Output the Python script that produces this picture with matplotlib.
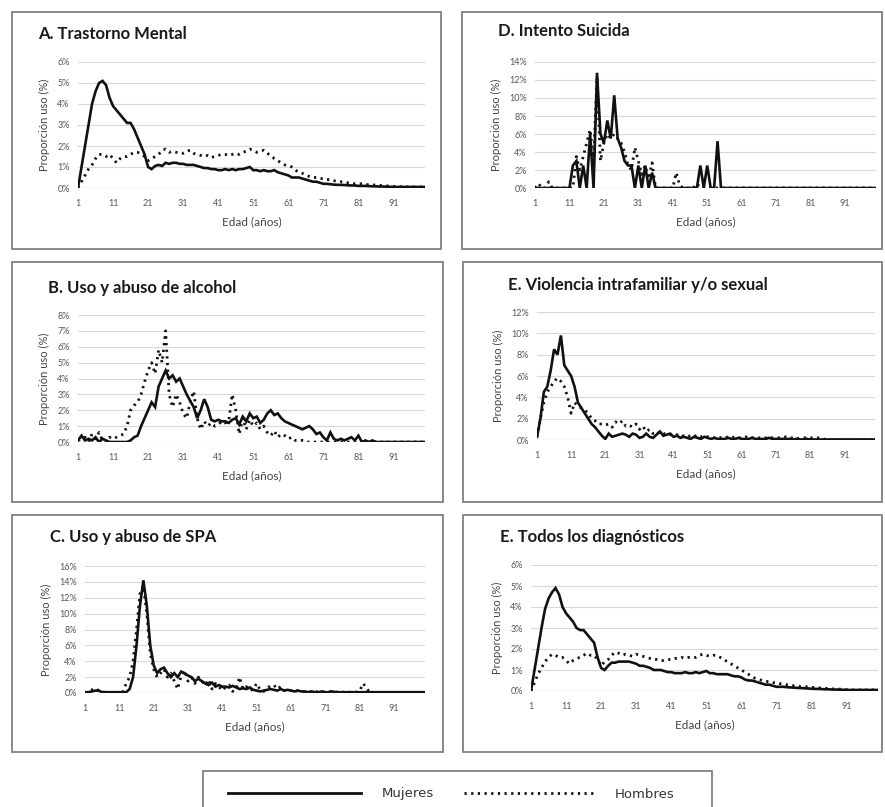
import matplotlib.pyplot as plt
from matplotlib.patches import Rectangle
from matplotlib.lines import Line2D
import numpy as np

plt.rcParams['font.family'] = ['Lato', 'DejaVu Sans']

edad = list(range(1, 101))

# A. Trastorno Mental
a_muj = [0.0, 1.0, 2.0, 3.0, 4.0, 4.6, 5.0, 5.1, 4.9, 4.3,
         3.9, 3.7, 3.5, 3.3, 3.1, 3.1, 2.8, 2.4, 2.0, 1.6,
         1.0, 0.9, 1.05, 1.1, 1.05, 1.2, 1.15, 1.2, 1.2, 1.15,
         1.15, 1.1, 1.1, 1.1, 1.05, 1.0, 0.95, 0.95, 0.9, 0.9,
         0.85, 0.85, 0.9, 0.85, 0.9, 0.85, 0.9, 0.9, 0.95, 1.0,
         0.85, 0.85, 0.8, 0.85, 0.8, 0.8, 0.85, 0.75, 0.7, 0.65,
         0.6, 0.5, 0.5, 0.5, 0.45, 0.4, 0.35, 0.3, 0.3, 0.25,
         0.2, 0.2, 0.18, 0.16, 0.15, 0.15, 0.14, 0.13, 0.12, 0.12,
         0.1, 0.1, 0.1, 0.09, 0.08, 0.08, 0.07, 0.07, 0.06, 0.06,
         0.05, 0.05, 0.05, 0.05, 0.05, 0.05, 0.05, 0.05, 0.05, 0.05]
a_hom = [0.0, 0.3, 0.6, 0.9, 1.1, 1.4, 1.6, 1.6, 1.5, 1.6,
         1.4, 1.2, 1.4, 1.5, 1.5, 1.6, 1.7, 1.7, 1.6, 1.5,
         1.3, 1.4, 1.5, 1.6, 1.8, 1.85, 1.7, 1.75, 1.7, 1.7,
         1.65, 1.75, 1.8, 1.65, 1.6, 1.55, 1.5, 1.55, 1.45, 1.5,
         1.55, 1.6, 1.6, 1.55, 1.6, 1.65, 1.6, 1.7, 1.75, 1.85,
         1.8, 1.7, 1.75, 1.8, 1.65, 1.55, 1.4, 1.3, 1.2, 1.1,
         1.05, 1.0, 0.85, 0.75, 0.7, 0.6, 0.55, 0.5, 0.5, 0.45,
         0.45, 0.4, 0.4, 0.35, 0.3, 0.3, 0.25, 0.25, 0.25, 0.2,
         0.2, 0.2, 0.18, 0.15, 0.15, 0.14, 0.12, 0.12, 0.1, 0.1,
         0.08, 0.07, 0.06, 0.06, 0.05, 0.05, 0.05, 0.05, 0.05, 0.05]

# D. Intento Suicida
d_muj = [0, 0, 0, 0, 0, 0, 0, 0, 0, 0,
         0, 2.5, 3.0, 0, 2.5, 0, 6.0, 0, 12.8, 6.0,
         5.0, 7.5, 5.5, 10.3, 5.5, 4.5, 3.0, 2.5, 2.5, 0,
         2.5, 0, 2.5, 0, 1.7, 0, 0, 0, 0, 0,
         0, 0, 0, 0, 0, 0, 0, 0, 2.5, 0,
         2.5, 0, 0, 5.2, 0, 0, 0, 0, 0, 0,
         0, 0, 0, 0, 0, 0, 0, 0, 0, 0,
         0, 0, 0, 0, 0, 0, 0, 0, 0, 0,
         0, 0, 0, 0, 0, 0, 0, 0, 0, 0,
         0, 0, 0, 0, 0, 0, 0, 0, 0, 0]
d_hom = [0, 0.5, 0, 0, 0.7, 0, 0, 0, 0, 0,
         0, 0, 3.5, 2.0, 3.5, 5.0, 6.5, 3.0, 12.3, 3.0,
         5.0, 6.0, 5.5, 6.0, 5.5, 5.0, 4.0, 2.5, 2.0, 4.5,
         3.0, 1.5, 2.5, 1.0, 2.8, 0, 0, 0, 0, 0,
         0, 1.7, 0.3, 0, 0, 0, 0, 0.5, 0, 0,
         0, 0, 0, 0, 0, 0, 0, 0, 0, 0,
         0, 0, 0, 0, 0, 0, 0, 0, 0, 0,
         0, 0, 0, 0, 0, 0, 0, 0, 0, 0,
         0, 0, 0, 0, 0, 0, 0, 0, 0, 0,
         0, 0, 0, 0, 0, 0, 0, 0, 0, 0]

# B. Uso y abuso de alcohol
b_muj = [0.1, 0.4, 0.1, 0.2, 0.1, 0.3, 0.0, 0.2, 0.1, 0.0,
         0.0, 0.0, 0.0, 0.0, 0.0, 0.1, 0.3, 0.4, 1.0, 1.5,
         2.0, 2.5, 2.2, 3.5, 4.0, 4.5, 4.0, 4.2, 3.8, 4.0,
         3.5, 3.0, 2.6, 2.2, 1.5, 2.0, 2.7, 2.2, 1.4, 1.3,
         1.4, 1.3, 1.3, 1.2, 1.4, 1.5, 1.1, 1.6, 1.3, 1.8,
         1.5, 1.6, 1.2, 1.4, 1.8, 2.0, 1.7, 1.8, 1.5, 1.3,
         1.2, 1.1, 1.0, 0.9, 0.8, 0.9, 1.0, 0.8, 0.5, 0.6,
         0.3, 0.1, 0.6, 0.2, 0.1, 0.2, 0.1, 0.2, 0.3, 0.1,
         0.4, 0.0, 0.1, 0.0, 0.1, 0.0, 0.0, 0.0, 0.0, 0.0,
         0.0, 0.0, 0.0, 0.0, 0.0, 0.0, 0.0, 0.0, 0.0, 0.0]
b_hom = [0.1, 0.2, 0.3, 0.0, 0.5, 0.2, 0.6, 0.1, 0.0, 0.3,
         0.2, 0.3, 0.4, 0.5, 1.0, 2.0, 2.3, 2.5, 3.0, 3.8,
         4.5, 5.0, 4.3, 5.8, 5.0, 7.0, 3.0, 2.2, 3.0, 2.5,
         1.8, 1.5, 2.5, 3.2, 1.5, 0.8, 1.3, 1.0, 1.2, 1.0,
         1.1, 1.3, 1.2, 1.3, 3.0, 2.0, 0.5, 1.5, 0.8, 1.4,
         1.0, 1.2, 0.8, 1.0, 0.6, 0.4, 0.7, 0.3, 0.5, 0.4,
         0.2, 0.3, 0.1, 0.1, 0.1, 0.0, 0.0, 0.0, 0.0, 0.0,
         0.0, 0.0, 0.0, 0.0, 0.0, 0.0, 0.0, 0.0, 0.0, 0.0,
         0.0, 0.0, 0.0, 0.0, 0.0, 0.0, 0.0, 0.0, 0.0, 0.0,
         0.0, 0.0, 0.0, 0.0, 0.0, 0.0, 0.0, 0.0, 0.0, 0.0]

# E. Violencia intrafamiliar y/o sexual
e_muj = [0.3, 2.0, 4.5, 5.0, 6.5, 8.5, 8.0, 9.8, 7.0, 6.5,
         6.0, 5.0, 3.5, 3.0, 2.5, 2.0, 1.5, 1.2, 0.8, 0.4,
         0.1, 0.6, 0.3, 0.4, 0.5, 0.6, 0.5, 0.3, 0.6, 0.5,
         0.2, 0.3, 0.6, 0.3, 0.2, 0.5, 0.8, 0.4, 0.5, 0.6,
         0.3, 0.4, 0.2, 0.3, 0.2, 0.1, 0.3, 0.2, 0.1, 0.3,
         0.2, 0.1, 0.2, 0.1, 0.1, 0.1, 0.2, 0.1, 0.1, 0.2,
         0.1, 0.1, 0.1, 0.2, 0.1, 0.1, 0.1, 0.1, 0.2, 0.1,
         0.1, 0.1, 0.1, 0.1, 0.1, 0.05, 0.1, 0.05, 0.05, 0.1,
         0.05, 0.05, 0.05, 0.05, 0.05, 0.05, 0.05, 0.05, 0.05, 0.05,
         0.05, 0.05, 0.05, 0.05, 0.05, 0.05, 0.05, 0.05, 0.05, 0.05]
e_hom = [0.3, 2.0, 3.5, 4.5, 5.0, 5.5, 5.8, 5.5, 5.0, 4.0,
         2.5, 3.5, 3.2, 3.0, 2.8, 2.5, 2.0, 1.8, 1.5, 1.5,
         1.4, 1.5, 1.2, 1.7, 1.5, 1.8, 1.3, 1.4, 1.2, 1.5,
         1.0, 1.3, 0.8, 1.0, 0.6, 0.5, 0.8, 0.6, 0.6, 0.5,
         0.4, 0.5, 0.3, 0.4, 0.3, 0.4, 0.3, 0.5, 0.3, 0.4,
         0.3, 0.3, 0.2, 0.3, 0.2, 0.2, 0.3, 0.2, 0.3, 0.2,
         0.2, 0.3, 0.2, 0.2, 0.3, 0.2, 0.2, 0.2, 0.3, 0.2,
         0.2, 0.2, 0.2, 0.3, 0.2, 0.2, 0.1, 0.2, 0.2, 0.2,
         0.2, 0.2, 0.2, 0.2, 0.1, 0.0, 0.0, 0.0, 0.0, 0.0,
         0.0, 0.0, 0.0, 0.0, 0.0, 0.0, 0.0, 0.0, 0.0, 0.0]

# C. Uso y abuso de SPA
c_muj = [0.1, 0.1, 0.2, 0.3, 0.3, 0.1, 0.1, 0.1, 0.1, 0.1,
         0.1, 0.1, 0.1, 0.5, 2.0, 6.0, 11.0, 14.2, 11.0, 6.0,
         3.5, 2.5, 3.0, 3.2, 2.5, 2.0, 2.5, 2.0, 2.7, 2.5,
         2.2, 2.0, 1.5, 1.8, 1.5, 1.2, 1.0, 1.3, 0.8, 1.0,
         0.8, 0.8, 0.7, 0.9, 0.7, 0.5, 0.6, 0.5, 0.7, 0.4,
         0.3, 0.2, 0.3, 0.4, 0.5, 0.4, 0.3, 0.5, 0.3, 0.4,
         0.3, 0.2, 0.3, 0.2, 0.2, 0.1, 0.2, 0.1, 0.1, 0.2,
         0.1, 0.1, 0.2, 0.1, 0.1, 0.1, 0.1, 0.1, 0.1, 0.1,
         0.1, 0.1, 0.1, 0.1, 0.1, 0.1, 0.1, 0.1, 0.1, 0.1,
         0.1, 0.1, 0.1, 0.1, 0.1, 0.1, 0.1, 0.1, 0.1, 0.1]
c_hom = [0.0, 0.2, 0.4, 0.6, 0.3, 0.1, 0.1, 0.0, 0.1, 0.0,
         0.1, 0.1, 1.2, 2.0, 4.0, 8.0, 12.5, 13.5, 10.0, 5.0,
         3.0, 2.0, 2.5, 3.0, 2.0, 2.5, 1.5, 0.5, 2.2, 2.8,
         1.5, 2.0, 1.2, 2.0, 1.5, 1.0, 1.7, 0.5, 1.2, 0.8,
         0.3, 0.8, 1.0, 0.2, 0.5, 2.0, 0.5, 0.8, 0.3, 0.5,
         1.2, 0.4, 0.2, 0.6, 0.9, 1.0, 0.5, 0.8, 0.3, 0.4,
         0.3, 0.2, 0.3, 0.2, 0.1, 0.2, 0.1, 0.2, 0.1, 0.1,
         0.1, 0.2, 0.1, 0.1, 0.2, 0.1, 0.1, 0.1, 0.1, 0.1,
         0.3, 1.2, 0.6, 0.0, 0.0, 0.0, 0.0, 0.0, 0.0, 0.0,
         0.0, 0.0, 0.0, 0.0, 0.0, 0.0, 0.0, 0.0, 0.0, 0.0]

# E. Todos los diagnosticos
f_muj = [0.0, 1.0, 2.0, 3.0, 3.9, 4.4, 4.7, 4.9, 4.6, 4.0,
         3.7, 3.5, 3.3, 3.0, 2.9, 2.9, 2.7, 2.5, 2.3, 1.6,
         1.1, 1.0, 1.2, 1.35, 1.35, 1.4, 1.4, 1.4, 1.4, 1.35,
         1.3, 1.2, 1.2, 1.15, 1.1, 1.0, 1.0, 1.0, 0.95, 0.9,
         0.9, 0.85, 0.85, 0.85, 0.9, 0.85, 0.85, 0.9, 0.85, 0.9,
         0.95, 0.85, 0.85, 0.8, 0.8, 0.8, 0.8, 0.75, 0.7, 0.7,
         0.65, 0.55, 0.5, 0.5, 0.45, 0.4, 0.35, 0.3, 0.3, 0.25,
         0.2, 0.2, 0.2, 0.18, 0.17, 0.16, 0.15, 0.14, 0.13, 0.12,
         0.11, 0.1, 0.1, 0.09, 0.08, 0.08, 0.07, 0.07, 0.06, 0.06,
         0.05, 0.05, 0.05, 0.05, 0.05, 0.05, 0.05, 0.05, 0.05, 0.05]
f_hom = [0.0, 0.4, 0.8, 1.1, 1.4, 1.6, 1.75, 1.7, 1.6, 1.6,
         1.45, 1.3, 1.45, 1.55, 1.6, 1.7, 1.8, 1.7, 1.7, 1.5,
         1.2, 1.4, 1.5, 1.7, 1.85, 1.8, 1.7, 1.75, 1.7, 1.65,
         1.75, 1.7, 1.65, 1.6, 1.55, 1.5, 1.5, 1.45, 1.45, 1.5,
         1.5, 1.55, 1.55, 1.6, 1.55, 1.6, 1.6, 1.6, 1.7, 1.75,
         1.7, 1.65, 1.7, 1.7, 1.6, 1.5, 1.4, 1.3, 1.2, 1.1,
         1.0, 0.9, 0.8, 0.7, 0.6, 0.55, 0.5, 0.45, 0.45, 0.4,
         0.4, 0.35, 0.35, 0.3, 0.3, 0.25, 0.25, 0.2, 0.2, 0.2,
         0.18, 0.16, 0.15, 0.14, 0.13, 0.12, 0.1, 0.1, 0.09, 0.08,
         0.07, 0.06, 0.05, 0.05, 0.05, 0.05, 0.05, 0.05, 0.05, 0.05]

xticks = [1, 11, 21, 31, 41, 51, 61, 71, 81, 91]
series_names = ['Mujeres', 'Hombres']

W, H = 885, 807
fig = plt.figure(figsize=(W / 100, H / 100), dpi=100)
fig.patch.set_facecolor('white')

dotted = (0, (0.8, 1.6))


def fx(px):
    return px / W


def fy(py):
    return 1 - py / H


def panel(box, area, title, title_xy, ymax, step, muj, hom):
    # box and area in pixels: (x0, y0, x1, y1) with y measured from the top
    bx0, by0, bx1, by1 = box
    fig.add_artist(Rectangle((fx(bx0), fy(by1)), (bx1 - bx0) / W, (by1 - by0) / H,
                             transform=fig.transFigure, fill=False,
                             edgecolor='#808080', lw=1.3))
    fig.text(fx(title_xy[0]), fy(title_xy[1]), title, fontsize=12,
             fontweight='bold', va='center', ha='left', color='#1a1a1a')
    ax0, ay0, ax1, ay1 = area
    ax = fig.add_axes([fx(ax0), fy(ay1), (ax1 - ax0) / W, (ay1 - ay0) / H])
    ax.plot(edad, muj, color='#111111', lw=1.9, solid_joinstyle='miter')
    ax.plot(edad, hom, color='#111111', lw=2.0, linestyle=dotted)
    ax.set_xlim(1, 100)
    ax.set_ylim(0, ymax)
    yt = np.arange(0, ymax + 0.01, step)
    ax.set_yticks(yt)
    ax.set_yticklabels(['%d%%' % v for v in yt])
    ax.set_xticks(xticks)
    ax.tick_params(length=0, labelsize=6.5, labelcolor='#555555', pad=8)
    ax.tick_params(axis='y', pad=6)
    ax.grid(axis='y', color='#d9d9d9', lw=0.8)
    ax.set_axisbelow(True)
    for s in ax.spines.values():
        s.set_visible(False)
    ax.axhline(0, color='#bfbfbf', lw=0.8, zorder=0)
    ax.set_xlabel('Edad (años)', fontsize=8.5, color='#444444', labelpad=6)
    ax.set_ylabel('Proporción uso (%)', fontsize=8, color='#444444', labelpad=5)
    ax.patch.set_alpha(0)
    return ax


panel((12, 12, 441, 249), (78, 62, 425, 188), 'A. Trastorno Mental', (38, 34),
      6, 1, a_muj, a_hom)
panel((462, 12, 882, 249), (535, 62, 876, 188), 'D. Intento Suicida', (498, 31),
      14, 2, d_muj, d_hom)
panel((12, 262, 443, 502), (78, 315, 425, 442), 'B. Uso y abuso de alcohol', (48, 288),
      8, 1, b_muj, b_hom)
panel((463, 262, 882, 502), (537, 312, 875, 440), 'E. Violencia intrafamiliar y/o sexual',
      (508, 285), 12, 2, e_muj, e_hom)
panel((12, 515, 443, 752), (85, 566, 425, 693), 'C. Uso y abuso de SPA', (50, 537),
      16, 2, c_muj, c_hom)
panel((463, 515, 882, 752), (531, 565, 878, 691), 'E. Todos los diagnósticos', (500, 537),
      6, 1, f_muj, f_hom)

# legend box at the bottom (runs past the lower edge like the original)
fig.add_artist(Rectangle((fx(203), fy(815)), 509 / W, 44 / H,
                         transform=fig.transFigure, fill=False,
                         edgecolor='#808080', lw=1.3))
fig.add_artist(Line2D([fx(228), fx(361)], [fy(793), fy(793)],
                      transform=fig.transFigure, color='#111111', lw=2.0))
fig.add_artist(Line2D([fx(464), fx(596)], [fy(793), fy(793)],
                      transform=fig.transFigure, color='#111111', lw=2.0,
                      linestyle=dotted))
fig.text(fx(382), fy(794), series_names[0], fontsize=9.5, va='center',
         color='#333333', family='DejaVu Sans')
fig.text(fx(615), fy(794), series_names[1], fontsize=9.5, va='center',
         color='#333333', family='DejaVu Sans')

fig.savefig('out.png', dpi=100)
